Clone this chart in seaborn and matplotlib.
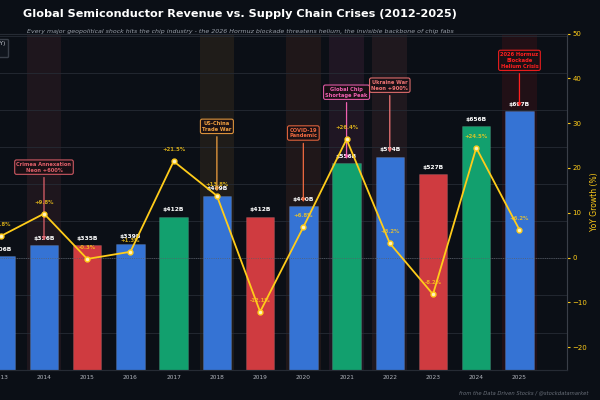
import numpy as np
import pandas as pd
import seaborn as sns
import matplotlib.pyplot as plt
from matplotlib.lines import Line2D
from matplotlib.patches import Patch

# data
years = ['2012', '2013', '2014', '2015', '2016', '2017', '2018',
         '2019', '2020', '2021', '2022', '2023', '2024', '2025']
revenue = [292, 306, 336, 335, 339, 412, 469, 412, 440, 556, 574, 527, 656, 697]
growth = [-2.7, 4.8, 9.8, -0.3, 1.3, 21.5, 13.8, -12.1, 6.8, 26.4, 3.2, -8.2, 24.5, 6.2]

event_years = ['2014', '2018', '2020', '2021', '2022', '2025']
event_labels = ['Crimea Annexation\nNeon +600%', 'US-China\nTrade War',
                'COVID-19\nPandemic', 'Global Chip\nShortage Peak',
                'Ukraine War\nNeon +900%', '2026 Hormuz\nBlockade\nHelium Crisis']
event_colors = ['#e0606a', '#f0a040', '#f06a40', '#f060b0', '#f07575', '#ff1f1f']
event_box_y = [546, 656, 638, 748, 767, 834]

BG = '#0b0f16'
GOLD = '#ffcc1a'
BLUE, RED, GREEN = '#3573d4', '#cf3b40', '#12a06e'

bar_colors = [RED if g < 0 else GREEN if g > 20 else BLUE for g in growth]

df = pd.DataFrame({'year': years, 'revenue': revenue, 'growth': growth})

sns.set_theme(style='dark')
plt.rcParams['font.family'] = ['DejaVu Sans']

fig = plt.figure(figsize=(6, 4), dpi=100, facecolor=BG)
ax = fig.add_axes([-0.15, 0.076, 1.095, 0.84])
ax.set_facecolor(BG)

# crisis shading
for yr, col in zip(event_years, event_colors):
    i = years.index(yr)
    ax.axvspan(i - 0.4, i + 0.4, color=col, alpha=0.09, lw=0, zorder=0)

sns.barplot(data=df, x='year', y='revenue', hue='year', palette=bar_colors,
            legend=False, width=0.66, ax=ax, zorder=2, saturation=1,
            edgecolor=(1, 1, 1, 0.12), linewidth=0.6)

ax.set_ylim(0, max(revenue) * 1.3)
ax.set_xlim(-1.1, 14.1)
ax.set_yticks(range(0, 901, 100))
ax.grid(axis='y', color='#262b34', lw=0.6)
ax.set_axisbelow(True)
ax.set_xlabel('')
ax.set_ylabel('')
ax.tick_params(axis='x', colors='#b0b4bc', labelsize=4.2, length=0, pad=4)
ax.tick_params(axis='y', colors='#b0b4bc', labelsize=4.2)
for s in ax.spines.values():
    s.set_color('#262b34')
    s.set_linewidth(0.8)

for i, r in enumerate(revenue):
    ax.text(i, r + 12, f'${r}B', ha='center', va='bottom', color='white',
            fontsize=4.3, fontweight='bold', zorder=4)

# growth line
ax2 = ax.twinx()
ax2.set_facecolor('none')
sns.lineplot(x=np.arange(len(years)), y=growth, ax=ax2, color=GOLD, lw=1.3,
             marker='o', markersize=3.5, markerfacecolor='#fff4c0',
             markeredgecolor=GOLD, markeredgewidth=1, zorder=5)
ax2.axhline(0, color='#5a5f68', lw=0.6, ls=':', zorder=1)
ax2.set_ylim(-25, 50)
ax2.set_ylabel('YoY Growth (%)', color=GOLD, fontsize=5.5, labelpad=2)
ax2.tick_params(axis='y', colors=GOLD, labelsize=5, length=2, width=0.8, pad=2)
ax2.grid(False)
for s in ax2.spines.values():
    s.set_color('#262b34')
    s.set_linewidth(0.8)
ax2.spines['right'].set_color('#3a3f48')

for i, g in enumerate(growth):
    ax2.text(i, g + 2.0, f'{g:+.1f}%', ha='center', va='bottom', color=GOLD,
             fontsize=3.9, fontweight='bold', alpha=0.8, zorder=6)

# crisis annotations
for yr, lab, col, by in zip(event_years, event_labels, event_colors, event_box_y):
    i = years.index(yr)
    ax.annotate(lab, xy=(i, revenue[i] + 4), xytext=(i, by),
                ha='center', va='center', color=col, fontsize=3.7,
                fontweight='bold', zorder=7,
                bbox=dict(boxstyle='round,pad=0.35', fc='#1a1014', ec=col,
                          lw=0.8, alpha=0.9),
                arrowprops=dict(arrowstyle='->', color=col, lw=0.9,
                                mutation_scale=5))

handles = [Line2D([], [], color=GOLD, marker='o', lw=1.3, ms=3,
                  label='Revenue Growth (YoY)'),
           Patch(color=BLUE, label='Revenue ($B)')]
fig.legend(handles=handles, loc='upper right', bbox_to_anchor=(0.018, 0.91),
           fontsize=4.2, facecolor='#10151d', edgecolor='#3a404a',
           labelcolor='#c8ccd4', framealpha=1)

fig.text(0.40, 0.965, 'Global Semiconductor Revenue vs. Supply Chain Crises (2012-2025)',
         ha='center', va='center', color='white', fontsize=8.1, fontweight='bold')
fig.text(0.40, 0.922, 'Every major geopolitical shock hits the chip industry - the 2026 '
         'Hormuz blockade threatens helium, the invisible backbone of chip fabs',
         ha='center', va='center', color='#9aa0aa', fontsize=4.5, style='italic')
fig.text(0.98, 0.018, 'from the Data Driven Stocks / @stockdatamarket',
         ha='right', va='center', color='#6a707a', fontsize=3.8, style='italic')

fig.savefig('out.png', dpi=100, facecolor=BG)
